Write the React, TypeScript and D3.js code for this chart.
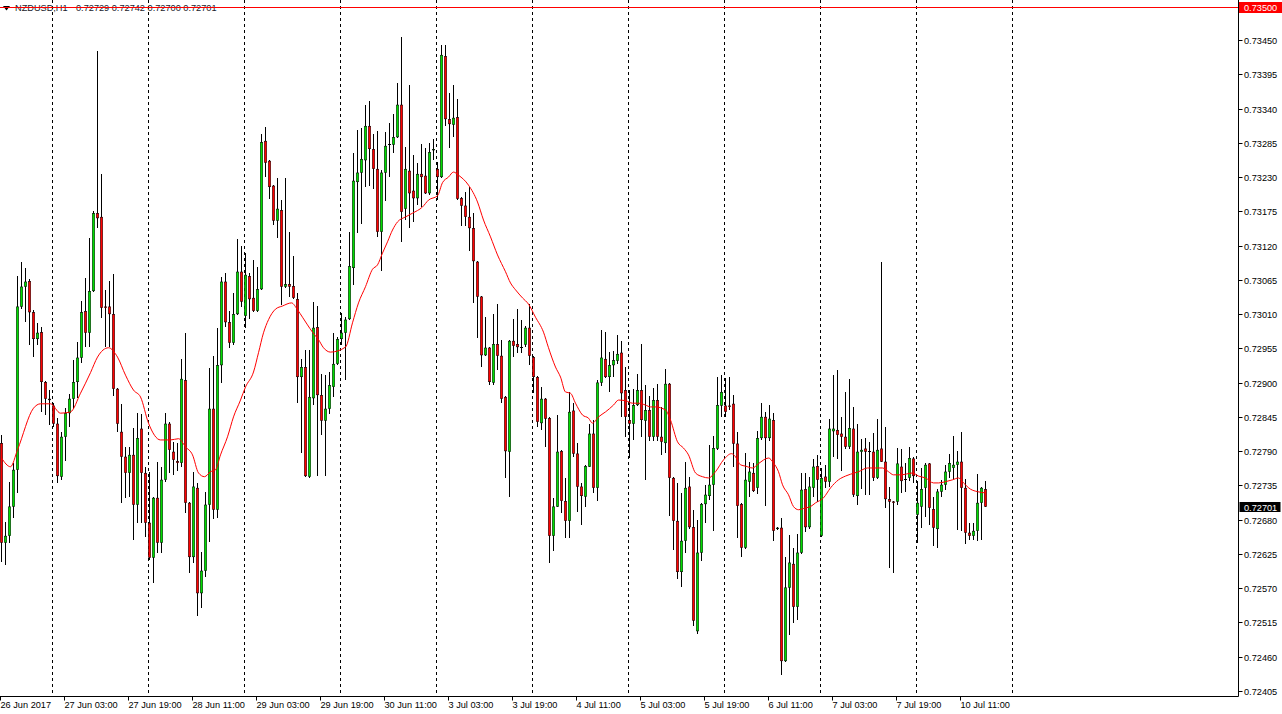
import React from "react";
import * as d3 from "d3";

// NZDUSD H1 candles, 26 Jun 2017 11:00 .. 10 Jul 2017 17:00
const open = [
  0.72803, 0.72643, 0.72654, 0.72701, 0.7276, 0.73022, 0.73054, 0.73063, 0.73013, 0.7297,
  0.72981, 0.72901, 0.72874, 0.72863, 0.72834, 0.72749, 0.72813, 0.72851, 0.72874, 0.72901,
  0.7294, 0.73015, 0.7298, 0.73047, 0.73172, 0.73166, 0.73022, 0.73022, 0.7301, 0.7289,
  0.72821, 0.72781, 0.72755, 0.72784, 0.72704, 0.72826, 0.72755, 0.72675, 0.72619, 0.72715,
  0.72643, 0.72744, 0.72834, 0.72789, 0.72774, 0.72771, 0.72904, 0.72707, 0.7262, 0.72731,
  0.72562, 0.72598, 0.72704, 0.72858, 0.72696, 0.72928, 0.73062, 0.72997, 0.72964, 0.7301,
  0.73078, 0.73007, 0.73071, 0.73036, 0.73015, 0.7305, 0.73288, 0.73256, 0.73216, 0.7316,
  0.73177, 0.73054, 0.73058, 0.73055, 0.73034, 0.72909, 0.72925, 0.72749, 0.72875, 0.72989,
  0.7288, 0.72839, 0.72858, 0.72893, 0.7293, 0.7297, 0.7298, 0.73002, 0.73084, 0.73222,
  0.73237, 0.73257, 0.73312, 0.73275, 0.73243, 0.73142, 0.73237, 0.73282, 0.73282, 0.73294,
  0.73346, 0.73179, 0.7324, 0.73208, 0.73196, 0.73235, 0.73232, 0.73204, 0.73273, 0.73243,
  0.7323, 0.73424, 0.73323, 0.73314, 0.73326, 0.73196, 0.73184, 0.73166, 0.73148, 0.73094,
  0.73038, 0.72944, 0.72956, 0.729, 0.72962, 0.72943, 0.72877, 0.72789, 0.72967, 0.72962,
  0.72957, 0.72961, 0.72988, 0.72941, 0.72909, 0.72835, 0.72874, 0.72843, 0.72654, 0.72701,
  0.7279, 0.7271, 0.72678, 0.72855, 0.72786, 0.72733, 0.72717, 0.72765, 0.72818, 0.72731,
  0.729, 0.72938, 0.72909, 0.72928, 0.72935, 0.72948, 0.72888, 0.7284, 0.72834, 0.72864,
  0.72888, 0.72839, 0.72856, 0.72813, 0.72872, 0.72813, 0.72803, 0.72898, 0.72747, 0.72678,
  0.72596, 0.72646, 0.72733, 0.72668, 0.72501, 0.72627, 0.72705, 0.72718, 0.72736, 0.72794,
  0.72863, 0.72863, 0.72863, 0.72866, 0.72802, 0.72705, 0.72635, 0.72741, 0.72755, 0.72731,
  0.72811, 0.72845, 0.72811, 0.7284, 0.72665, 0.72667, 0.72453, 0.72571, 0.72609, 0.7254,
  0.72627, 0.72729, 0.72668, 0.72731, 0.72766, 0.72654, 0.72749, 0.72741, 0.72822, 0.72824,
  0.72818, 0.72813, 0.72797, 0.72826, 0.72718, 0.72789, 0.72794, 0.7279, 0.72789, 0.72747,
  0.72794, 0.72773, 0.72713, 0.72709, 0.72709, 0.72765, 0.72745, 0.72747, 0.72778, 0.72688,
  0.72701, 0.72731, 0.7277, 0.72697, 0.72665, 0.72725, 0.72736, 0.72757, 0.72763, 0.72768,
  0.72773, 0.72731, 0.72659, 0.72654, 0.72662, 0.72707, 0.72729,
];

const high = [
  0.72816, 0.72676, 0.72741, 0.72771, 0.73071, 0.73094, 0.73084, 0.73066, 0.73016, 0.72996,
  0.72989, 0.72903, 0.72888, 0.72867, 0.72843, 0.72821, 0.72859, 0.72882, 0.72936, 0.72965,
  0.73031, 0.73068, 0.73132, 0.73176, 0.73432, 0.73235, 0.73049, 0.73063, 0.73074, 0.72892,
  0.72866, 0.72797, 0.72797, 0.72827, 0.72851, 0.7285, 0.72765, 0.72757, 0.72717, 0.72773,
  0.72765, 0.72851, 0.72837, 0.72805, 0.72803, 0.72938, 0.7298, 0.72709, 0.72757, 0.72739,
  0.72628, 0.72725, 0.72924, 0.72943, 0.72988, 0.7307, 0.73076, 0.73015, 0.73044, 0.73131,
  0.73119, 0.73108, 0.73076, 0.73097, 0.73086, 0.73299, 0.7331, 0.73257, 0.73217, 0.73229,
  0.73193, 0.73229, 0.73142, 0.73103, 0.73044, 0.72938, 0.72952, 0.72952, 0.7303, 0.73023,
  0.72914, 0.72912, 0.72917, 0.7298, 0.72973, 0.73012, 0.73005, 0.73142, 0.73269, 0.73306,
  0.73309, 0.73346, 0.73352, 0.73299, 0.73304, 0.73241, 0.73302, 0.73317, 0.73331, 0.73381,
  0.73455, 0.73278, 0.73378, 0.73265, 0.73253, 0.73283, 0.73277, 0.73285, 0.73291, 0.73254,
  0.73442, 0.73442, 0.73365, 0.73378, 0.73355, 0.73198, 0.73206, 0.73214, 0.73172, 0.73095,
  0.73039, 0.73005, 0.72957, 0.7301, 0.73026, 0.72969, 0.72878, 0.72969, 0.73002, 0.73018,
  0.73001, 0.72991, 0.73026, 0.72943, 0.7291, 0.72893, 0.72876, 0.72845, 0.72715, 0.72848,
  0.72792, 0.72747, 0.72885, 0.72867, 0.72803, 0.72739, 0.72768, 0.72834, 0.7284, 0.72904,
  0.72985, 0.72981, 0.72949, 0.72951, 0.72977, 0.72967, 0.72925, 0.72888, 0.7289, 0.72914,
  0.72962, 0.72896, 0.72879, 0.72892, 0.72898, 0.72861, 0.72922, 0.729, 0.72749, 0.72739,
  0.72723, 0.72773, 0.72749, 0.72696, 0.7268, 0.72707, 0.72736, 0.728, 0.72814, 0.72909,
  0.72912, 0.72908, 0.72909, 0.7288, 0.72821, 0.72707, 0.72787, 0.72773, 0.72771, 0.72822,
  0.72867, 0.72853, 0.72864, 0.72851, 0.72668, 0.72683, 0.7262, 0.72656, 0.72635, 0.72657,
  0.72755, 0.72755, 0.72749, 0.72778, 0.72784, 0.72763, 0.72768, 0.72842, 0.72912, 0.7292,
  0.72845, 0.72885, 0.72906, 0.72861, 0.72834, 0.7281, 0.72811, 0.72805, 0.72819, 0.72842,
  0.73094, 0.72829, 0.72733, 0.7271, 0.72795, 0.72794, 0.72771, 0.72797, 0.72781, 0.72742,
  0.72763, 0.72771, 0.72771, 0.72717, 0.72729, 0.72744, 0.72768, 0.72786, 0.72814, 0.7279,
  0.72821, 0.72745, 0.72675, 0.72675, 0.72753, 0.72733, 0.72742,
];

const low = [
  0.72612, 0.72607, 0.72643, 0.72683, 0.72723, 0.73018, 0.72997, 0.72961, 0.72941, 0.72961,
  0.72853, 0.72848, 0.72832, 0.72829, 0.72739, 0.72744, 0.72774, 0.72829, 0.72858, 0.72875,
  0.72932, 0.72957, 0.72957, 0.73046, 0.73148, 0.73004, 0.72957, 0.72957, 0.72879, 0.72821,
  0.72707, 0.72715, 0.72717, 0.72648, 0.72675, 0.72675, 0.72652, 0.72615, 0.72579, 0.72627,
  0.72627, 0.72741, 0.72755, 0.72752, 0.72758, 0.72765, 0.72691, 0.72595, 0.72611, 0.72526,
  0.72538, 0.72588, 0.72644, 0.72681, 0.72683, 0.729, 0.72989, 0.72956, 0.72961, 0.73008,
  0.73022, 0.72988, 0.73002, 0.73013, 0.73013, 0.73048, 0.7323, 0.73195, 0.73153, 0.73132,
  0.73025, 0.73052, 0.73038, 0.73035, 0.72867, 0.72787, 0.72748, 0.72747, 0.72864, 0.7275,
  0.72816, 0.7275, 0.7285, 0.72877, 0.72928, 0.72961, 0.72904, 0.73, 0.73057, 0.7314,
  0.73155, 0.73214, 0.73216, 0.73211, 0.73134, 0.73079, 0.73192, 0.7323, 0.73269, 0.73292,
  0.73126, 0.73161, 0.73148, 0.73158, 0.73185, 0.73182, 0.73203, 0.73201, 0.73257, 0.73193,
  0.73228, 0.73312, 0.73277, 0.73294, 0.73193, 0.73152, 0.73152, 0.73111, 0.73028, 0.72972,
  0.72925, 0.72943, 0.72896, 0.72896, 0.7292, 0.72867, 0.72747, 0.72717, 0.72941, 0.72948,
  0.72948, 0.72957, 0.72928, 0.72883, 0.72829, 0.72824, 0.72797, 0.72611, 0.7263, 0.727,
  0.72691, 0.72651, 0.72651, 0.72781, 0.72692, 0.72672, 0.72701, 0.72764, 0.72723, 0.7271,
  0.72895, 0.72908, 0.72885, 0.72909, 0.7293, 0.72845, 0.72813, 0.72779, 0.72808, 0.72863,
  0.72813, 0.72744, 0.72806, 0.72806, 0.72806, 0.72784, 0.72787, 0.72686, 0.72631, 0.72585,
  0.72572, 0.72627, 0.72665, 0.7251, 0.72497, 0.72614, 0.72675, 0.72712, 0.72662, 0.72792,
  0.72845, 0.72845, 0.72856, 0.72765, 0.72651, 0.7262, 0.72633, 0.72717, 0.72724, 0.72721,
  0.72808, 0.72702, 0.72806, 0.72646, 0.72664, 0.72431, 0.72451, 0.72495, 0.72514, 0.72519,
  0.72625, 0.7266, 0.72665, 0.72717, 0.72709, 0.72652, 0.72731, 0.72733, 0.72781, 0.72778,
  0.72758, 0.72794, 0.72794, 0.72717, 0.72704, 0.72729, 0.7272, 0.7272, 0.72742, 0.72746,
  0.72772, 0.72699, 0.72603, 0.72595, 0.72704, 0.72723, 0.72725, 0.72742, 0.72739, 0.72643,
  0.72667, 0.72684, 0.72672, 0.72638, 0.72635, 0.72717, 0.72728, 0.72747, 0.72744, 0.72664,
  0.72662, 0.72641, 0.72648, 0.72648, 0.72646, 0.72648, 0.727,
];

const close = [
  0.72643, 0.72654, 0.72701, 0.7276, 0.73022, 0.73054, 0.73062, 0.73013, 0.7297, 0.7298,
  0.72901, 0.72874, 0.72872, 0.72834, 0.7275, 0.72813, 0.72851, 0.72874, 0.72901, 0.7294,
  0.73013, 0.7298, 0.73047, 0.73172, 0.73164, 0.7302, 0.7302, 0.7301, 0.7289, 0.72834,
  0.72781, 0.72755, 0.72784, 0.72704, 0.72811, 0.72755, 0.72675, 0.72619, 0.72715, 0.72643,
  0.72744, 0.72834, 0.72792, 0.72776, 0.72771, 0.72906, 0.72707, 0.7262, 0.72733, 0.72562,
  0.72598, 0.72704, 0.72858, 0.72696, 0.72928, 0.73062, 0.72997, 0.72964, 0.7301, 0.73078,
  0.7303, 0.73073, 0.73034, 0.73015, 0.7305, 0.73286, 0.73253, 0.73214, 0.7316, 0.73179,
  0.73054, 0.73058, 0.73054, 0.73036, 0.72909, 0.72925, 0.7275, 0.72877, 0.72988, 0.7288,
  0.72839, 0.72858, 0.72896, 0.7293, 0.7297, 0.7298, 0.73001, 0.73087, 0.73224, 0.73237,
  0.73259, 0.73312, 0.73275, 0.73243, 0.73142, 0.73237, 0.7328, 0.73283, 0.73294, 0.73346,
  0.73174, 0.73243, 0.73204, 0.73196, 0.73235, 0.7323, 0.73204, 0.7327, 0.73275, 0.7323,
  0.73426, 0.73323, 0.73315, 0.73325, 0.73195, 0.73184, 0.73166, 0.73148, 0.73095, 0.73038,
  0.72944, 0.72956, 0.72901, 0.72962, 0.72943, 0.72874, 0.7279, 0.72967, 0.72959, 0.72957,
  0.72956, 0.72988, 0.72943, 0.72909, 0.72837, 0.72874, 0.72842, 0.72654, 0.72701, 0.72789,
  0.7271, 0.72678, 0.72853, 0.72786, 0.72733, 0.72718, 0.72766, 0.72818, 0.72731, 0.729,
  0.7294, 0.72909, 0.72928, 0.72936, 0.72946, 0.72883, 0.72845, 0.72834, 0.72864, 0.72888,
  0.7284, 0.72856, 0.72813, 0.72872, 0.72813, 0.72805, 0.72898, 0.72747, 0.72678, 0.72596,
  0.72646, 0.72731, 0.72668, 0.72518, 0.72627, 0.72705, 0.7272, 0.72736, 0.72795, 0.72864,
  0.72885, 0.72853, 0.72861, 0.72802, 0.72702, 0.72635, 0.72744, 0.72757, 0.72726, 0.72811,
  0.72845, 0.72811, 0.72842, 0.72662, 0.72667, 0.72453, 0.72571, 0.72611, 0.7254, 0.72627,
  0.72728, 0.72668, 0.72733, 0.72765, 0.72744, 0.72747, 0.72741, 0.72826, 0.72826, 0.72816,
  0.72813, 0.72797, 0.72827, 0.7272, 0.72789, 0.72792, 0.72789, 0.72789, 0.72747, 0.72792,
  0.72773, 0.72713, 0.72709, 0.72707, 0.7277, 0.72742, 0.72744, 0.72779, 0.7275, 0.72707,
  0.72729, 0.72768, 0.72699, 0.72667, 0.72725, 0.72736, 0.72757, 0.72771, 0.72768, 0.72773,
  0.72731, 0.72659, 0.72654, 0.72662, 0.72707, 0.72731, 0.72701,
];

// moving average (bar index -> price)
const maBar = [
  0, 2.25, 4, 8, 9.75, 12.25, 14.75, 17.25, 19.75, 22.25, 24, 26.75, 29, 31, 33, 34.75, 36.75,
  39.75, 42.25, 44.25, 46, 47.75, 49.25, 50.75, 52.25, 53.5, 54.75, 56.5, 58, 59.75, 61, 63,
  64.25, 65.5, 66.75, 68.5, 70.25, 72.5, 74, 75.25, 77.75, 79.25, 80.5, 82.25, 86, 87.75, 89.25,
  91, 92.75, 94, 95.25, 96.5, 97.75, 99, 101, 102.75, 105.25, 106.75, 109, 110.25, 111.75, 113,
  114.25, 116.75, 119, 120.5, 122.25, 124, 126, 127.25, 128.5, 130.25, 131.75, 133.5, 135.5,
  136.75, 138.5, 139.75, 141, 142.25, 143.5, 145.25, 146.75, 147.75, 149.25, 151, 153, 154.25,
  156, 157.75, 159.25, 161, 162.25, 163.5, 166, 167.25, 169, 170.5, 171.75, 173.5, 175.25,
  176.75, 178.5, 180.5, 182.5, 183.5, 184.75, 186, 187.75, 189.25, 191.75, 193, 194.25, 195.25,
  196.75, 198, 199.25, 201, 202.25, 203.5, 205.5, 207.25, 209.25, 211, 212.25, 214.25, 216.5,
  218.5, 220.25, 221.75, 223, 224.75, 226, 227.75, 229.25, 231, 233, 234.25, 236, 237.75, 239.25,
  240.5, 242.25, 244, 246,
];
const maValue = [
  0.72779, 0.72765, 0.72792, 0.72859, 0.72866, 0.72866, 0.72851, 0.72853, 0.72883, 0.72916,
  0.72941, 0.72956, 0.72941, 0.72912, 0.72888, 0.72877, 0.72835, 0.72808, 0.72808, 0.7281,
  0.72797, 0.72784, 0.72755, 0.72749, 0.72757, 0.7276, 0.72784, 0.72813, 0.72845, 0.72872,
  0.72893, 0.72917, 0.72948, 0.7298, 0.73001, 0.73018, 0.73023, 0.73028, 0.73017, 0.73005,
  0.72981, 0.72969, 0.72956, 0.72949, 0.72957, 0.72996, 0.73028, 0.73054, 0.73082, 0.73089,
  0.73108, 0.73126, 0.73145, 0.73158, 0.73166, 0.73172, 0.73182, 0.73193, 0.732, 0.73221,
  0.7323, 0.73238, 0.73233, 0.73217, 0.7319, 0.73161, 0.73134, 0.73105, 0.73078, 0.7306,
  0.73049, 0.73036, 0.73026, 0.73005, 0.72981, 0.72956, 0.72925, 0.72909, 0.72885, 0.72883,
  0.72867, 0.72848, 0.72843, 0.72835, 0.72845, 0.72853, 0.72864, 0.72872, 0.72871, 0.72867,
  0.72867, 0.72864, 0.72861, 0.72861, 0.72856, 0.7284, 0.72805, 0.72795, 0.72784, 0.72755,
  0.72749, 0.72747, 0.72757, 0.72776, 0.72786, 0.72781, 0.72768, 0.72766, 0.72763, 0.7277,
  0.72779, 0.72771, 0.72757, 0.72736, 0.7272, 0.72701, 0.72696, 0.72699, 0.72701, 0.72707,
  0.72715, 0.72731, 0.72744, 0.7275, 0.72753, 0.72757, 0.72763, 0.72763, 0.72763, 0.72757,
  0.72752, 0.72752, 0.72753, 0.72755, 0.7275, 0.72747, 0.72739, 0.72739, 0.72741, 0.72744,
  0.72747, 0.72739, 0.72729, 0.72725, 0.72723,
];

const timeLabels = [
  "26 Jun 2017", "27 Jun 03:00", "27 Jun 19:00", "28 Jun 11:00", "29 Jun 03:00",
  "29 Jun 19:00", "30 Jun 11:00", "3 Jul 03:00", "3 Jul 19:00", "4 Jul 11:00",
  "5 Jul 03:00", "5 Jul 19:00", "6 Jul 11:00", "7 Jul 03:00", "7 Jul 19:00", "10 Jul 11:00",
];
const timeLabelBars = [0, 16, 32, 48, 64, 80, 96, 112, 128, 144, 160, 176, 192, 208, 224, 240];
const daySeparatorBars = [13, 37, 61, 85, 109, 133, 157, 181, 205, 229, 253];

const priceTicks = [
  0.72405, 0.7246, 0.72515, 0.7257, 0.72625, 0.7268, 0.72735, 0.7279, 0.72845, 0.729,
  0.72955, 0.7301, 0.73065, 0.7312, 0.73175, 0.7323, 0.73285, 0.7334, 0.73395, 0.7345,
];
const levelPrice = 0.735;
const lastPrice = 0.72701;
const headerSymbol = "NZDUSD,H1";
const headerOHLC = [0.72729, 0.72742, 0.727, 0.72701];

const W = 1282;
const H = 714;
const axisX = 1238.5;
const axisY = 696.5;
const font = "Tahoma, 'Liberation Sans', Arial, sans-serif";
const fs = 9.2;
const UP = "#00dd00";
const DOWN = "#ff0000";

const App: React.FC = () => {
  const x = d3.scaleLinear().domain([0, 1]).range([1.5, 5.5]);
  const y = d3.scaleLinear().domain([0.72405, 0.7345]).range([691, 40]);

  const maLine = d3
    .line<number>()
    .x((_, i) => x(maBar[i]))
    .y((d) => y(d))
    .curve(d3.curveMonotoneX);

  return (
    <div>
      <style>{"body{margin:0;background:#fff}"}</style>
      <svg width={W} height={H} style={{ display: "block" }} fontFamily={font}>
        <rect x={0} y={0} width={W} height={H} fill="#fff" />

        {/* day separators */}
        {daySeparatorBars.map((b) => (
          <line
            key={"d" + b}
            x1={x(b) - 1}
            x2={x(b) - 1}
            y1={0}
            y2={axisY - 1}
            stroke="#000"
            strokeWidth={1}
            strokeDasharray="3,3"
          />
        ))}

        {/* candles */}
        {open.map((o, i) => {
          const c = close[i];
          const cx = x(i);
          const yh = Math.round(y(high[i]));
          const yl = Math.round(y(low[i]));
          const yTop = y(Math.max(o, c));
          const yBot = y(Math.min(o, c));
          const doji = yBot - yTop < 1.2;
          return (
            <g key={i}>
              <line x1={cx} x2={cx} y1={yh} y2={yl} stroke="#000" strokeWidth={1} />
              {doji ? (
                <line
                  x1={cx - 1.5}
                  x2={cx + 1.5}
                  y1={Math.round(yTop) + 0.5}
                  y2={Math.round(yTop) + 0.5}
                  stroke="#000"
                  strokeWidth={1}
                />
              ) : (
                <rect
                  x={cx - 1.25}
                  y={yTop + 0.25}
                  width={2.5}
                  height={Math.max(0.5, yBot - yTop - 0.5)}
                  fill={c > o ? UP : DOWN}
                  stroke="#000"
                  strokeWidth={0.5}
                />
              )}
            </g>
          );
        })}

        {/* moving average */}
        <path d={maLine(maValue) || ""} fill="none" stroke="#ff0000" strokeWidth={1} />

        {/* header */}
        <path d="M3,6 L10,6 L6.5,10.5 Z" fill="#000" />
        <text x={15} y={11} fontSize={fs} fill="#1a1a2a">
          {headerSymbol}
        </text>
        <text x={76} y={11} fontSize={fs} fill="#1a1a2a">
          {headerOHLC.map((v) => v.toFixed(5)).join(" ")}
        </text>

        {/* horizontal level line */}
        <line
          x1={0}
          x2={axisX}
          y1={Math.round(y(levelPrice)) - 1.5}
          y2={Math.round(y(levelPrice)) - 1.5}
          stroke="#ff0000"
          strokeWidth={1}
        />

        {/* axes */}
        <line x1={axisX} x2={axisX} y1={0} y2={axisY} stroke="#000" strokeWidth={1} />
        <line x1={0} x2={axisX} y1={axisY} y2={axisY} stroke="#000" strokeWidth={1} />

        {priceTicks.map((p) => {
          const py = Math.round(y(p)) + 0.5;
          return (
            <g key={"p" + p}>
              <line x1={axisX} x2={axisX + 4} y1={py} y2={py} stroke="#000" strokeWidth={1} />
              <text x={1244} y={py + 3.3} fontSize={fs} fill="#000">
                {p.toFixed(5)}
              </text>
            </g>
          );
        })}

        {timeLabels.map((t, k) => {
          const tx = x(timeLabelBars[k]) - 1;
          return (
            <g key={"t" + k}>
              <line x1={tx} x2={tx} y1={axisY} y2={axisY + 4} stroke="#000" strokeWidth={1} />
              <text x={tx} y={708} fontSize={fs} fill="#000">
                {t}
              </text>
            </g>
          );
        })}

        {/* level price label */}
        <rect
          x={1239}
          y={Math.round(y(levelPrice)) - 7}
          width={43}
          height={11}
          fill="#ff0000"
        />
        <text x={1244} y={Math.round(y(levelPrice)) + 1.8} fontSize={fs} fill="#fff">
          {levelPrice.toFixed(5)}
        </text>

        {/* last price label */}
        <rect x={1239.5} y={Math.round(y(lastPrice)) - 5} width={41} height={10} fill="#000" />
        <text x={1244} y={Math.round(y(lastPrice)) + 3.5} fontSize={fs} fill="#fff">
          {lastPrice.toFixed(5)}
        </text>
      </svg>
    </div>
  );
};

export default App;
